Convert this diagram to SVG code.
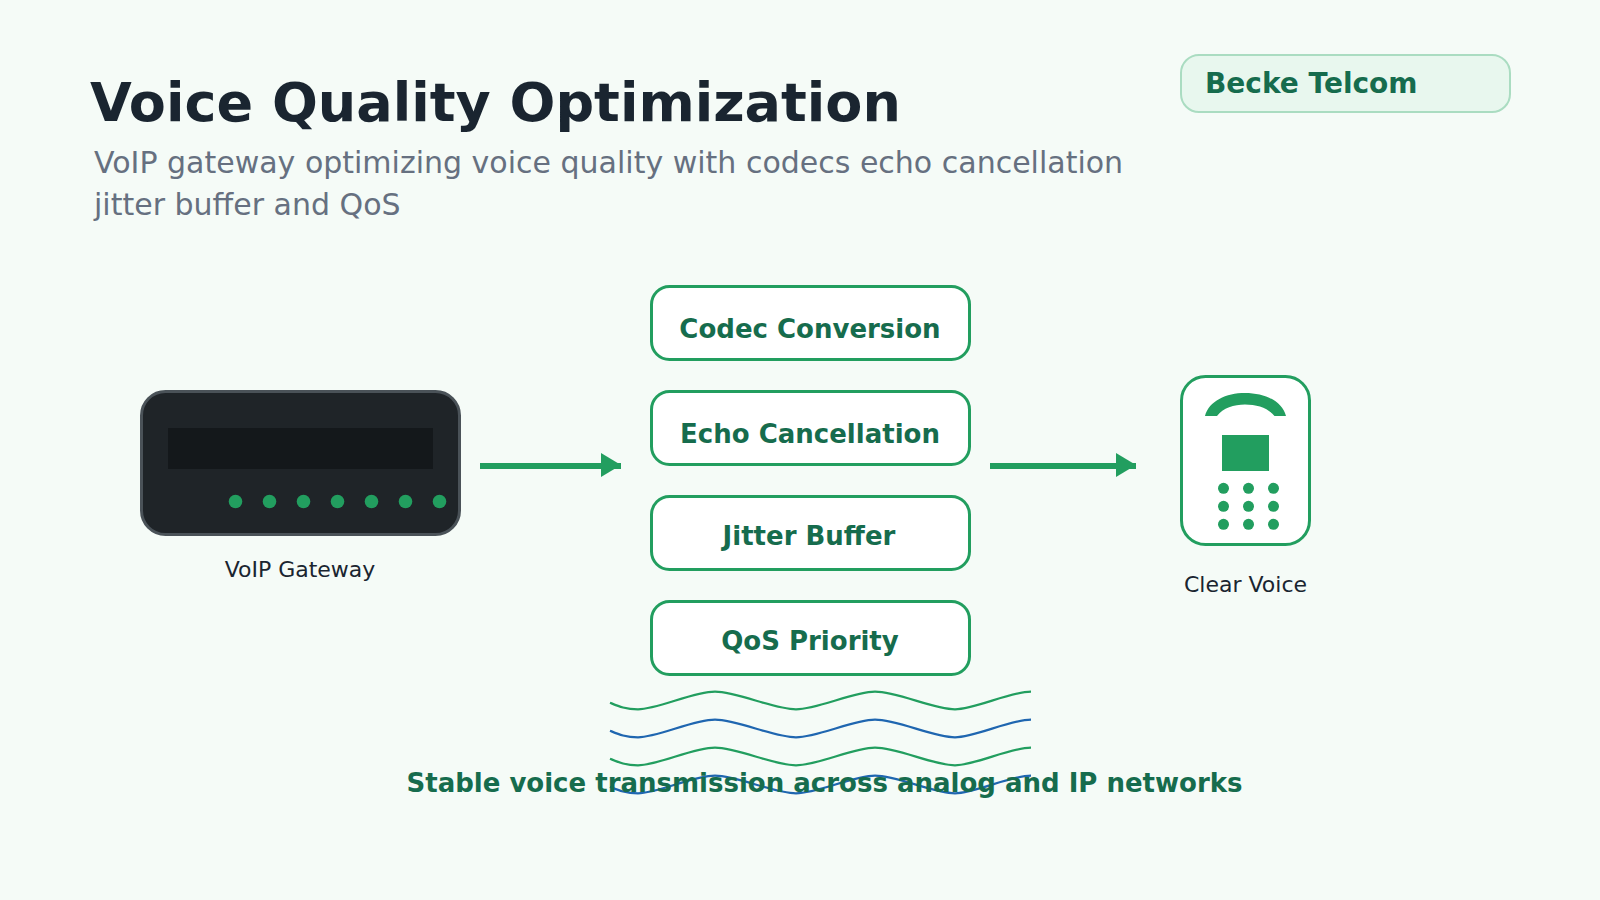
<svg xmlns="http://www.w3.org/2000/svg" width="1600" height="900" viewBox="0 0 1600 900">
<defs>
<style>
text{font-family:"DejaVu Sans",sans-serif}
.title{font-size:54px;font-weight:700;fill:#1a2530}
.sub{font-size:30px;fill:#667080}
.brand{font-size:28px;font-weight:700;fill:#166c4d}
.lbl{font-size:22px;fill:#1a2530;text-anchor:middle}
.box{fill:#fff;stroke:#229e5f;stroke-width:3}
.boxt{font-size:26px;font-weight:700;fill:#166c4d;text-anchor:middle}
.g{fill:#229e5f}
.wave{fill:none;stroke-width:2.2}
.foot{font-size:26px;font-weight:700;fill:#166c4d;text-anchor:middle}
</style>
<marker id="ah" markerUnits="userSpaceOnUse" markerWidth="20" markerHeight="24" refX="20" refY="13" orient="auto"><path d="M0 0L20 12L0 24Z" fill="#229e5f"/></marker>
<path id="w" d="M610 702.700C618 706 625 709.300 638 709.300C658 709.300 693 691.700 715 691.700C738 691.700 773 709.300 796 709.300C818 709.300 853 691.700 875 691.700C898 691.700 933 709.300 955 709.300C975 709.300 1010 691.700 1031 691.700"/>
</defs>
<rect id="bg" width="1600" height="900" fill="#f5fbf7"/>
<g id="header">
<text class="title" x="90" y="120.500">Voice Quality Optimization</text>
<text class="sub" x="94" y="173">VoIP gateway optimizing voice quality with codecs echo cancellation</text>
<text class="sub" x="94" y="215">jitter buffer and QoS</text>
</g>
<g id="badge">
<rect x="1181" y="55" width="329" height="57" rx="18" fill="#e8f7ee" stroke="#aadcc1" stroke-width="2"/>
<text class="brand" x="1205" y="93">Becke Telcom</text>
</g>
<g id="gateway">
<rect x="141.500" y="391.500" width="318" height="143" rx="24" fill="#1f2428" stroke="#4a5258" stroke-width="3"/>
<rect x="168" y="428" width="265" height="41" fill="#14181b"/>
<g class="g"><circle cx="235.500" cy="501.500" r="6.800"/><circle cx="269.500" cy="501.500" r="6.800"/><circle cx="303.500" cy="501.500" r="6.800"/><circle cx="337.500" cy="501.500" r="6.800"/><circle cx="371.500" cy="501.500" r="6.800"/><circle cx="405.500" cy="501.500" r="6.800"/><circle cx="439.500" cy="501.500" r="6.800"/></g>
<text class="lbl" x="300" y="577">VoIP Gateway</text>
</g>
<g id="connectors" stroke="#229e5f" stroke-width="6" fill="none">
<path d="M480 466H621" marker-end="url(#ah)"/>
<path d="M990 466H1136" marker-end="url(#ah)"/>
</g>
<g id="codec"><rect class="box" x="651.500" y="286.500" width="318" height="73" rx="18"/><text class="boxt" x="810" y="338">Codec Conversion</text></g>
<g id="echo"><rect class="box" x="651.500" y="391.500" width="318" height="73" rx="18"/><text class="boxt" x="810" y="443">Echo Cancellation</text></g>
<g id="jitter"><rect class="box" x="651.500" y="496.500" width="318" height="73" rx="18"/><text class="boxt" x="809" y="545">Jitter Buffer</text></g>
<g id="qos"><rect class="box" x="651.500" y="601.500" width="318" height="73" rx="18"/><text class="boxt" x="810" y="650">QoS Priority</text></g>
<g id="phone">
<rect x="1181.500" y="376.500" width="128" height="168" rx="24" fill="#fff" stroke="#229e5f" stroke-width="3"/>
<path class="g" d="M1205 416C1209 401 1226 393 1245 393C1265 393 1282 401 1286 416H1274.500C1268 408 1257 404.500 1245 404.500C1234 404.500 1223 408 1217 416Z"/>
<rect class="g" x="1222" y="435" width="47" height="36"/>
<g class="g"><circle cx="1223.500" cy="488.300" r="5.500"/><circle cx="1248.500" cy="488.300" r="5.500"/><circle cx="1273.500" cy="488.300" r="5.500"/><circle cx="1223.500" cy="506.300" r="5.500"/><circle cx="1248.500" cy="506.300" r="5.500"/><circle cx="1273.500" cy="506.300" r="5.500"/><circle cx="1223.500" cy="524.300" r="5.500"/><circle cx="1248.500" cy="524.300" r="5.500"/><circle cx="1273.500" cy="524.300" r="5.500"/></g>
<text class="lbl" x="1245.500" y="592">Clear Voice</text>
</g>
<g id="waves">
<use href="#w" class="wave" stroke="#229e5f"/>
<use href="#w" class="wave" stroke="#1f66b0" y="28"/>
<use href="#w" class="wave" stroke="#229e5f" y="56"/>
<use href="#w" class="wave" stroke="#1f66b0" y="84"/>
</g>
<text id="footer" class="foot" x="824.500" y="792">Stable voice transmission across analog and IP networks</text>
</svg>
